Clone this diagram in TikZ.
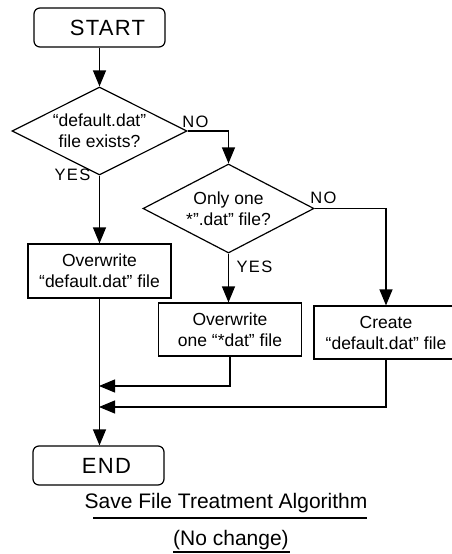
\documentclass[tikz,border=0pt]{standalone}
\usepackage{fontspec}
\setmainfont{Liberation Sans}
\usetikzlibrary{shapes.geometric,arrows.meta}

\begin{document}
\begin{tikzpicture}[x=1pt, y=-1pt, line width=1.2pt,
    term/.style={draw, rounded corners=6pt, minimum width=131pt, minimum height=39pt,
        inner sep=0pt, font=\fontsize{22}{26}\selectfont\addfontfeature{LetterSpace=6}},
    decision/.style={draw, diamond, aspect=2, inner sep=0pt, align=center,
        font=\fontsize{17.5}{21}\selectfont},
    process/.style={draw, minimum width=143pt, minimum height=54pt, inner sep=0pt,
        align=center, font=\fontsize{17.5}{21}\selectfont},
    lbl/.style={inner sep=0pt, font=\fontsize{16.5}{20}\selectfont\addfontfeature{LetterSpace=8}},
    arr/.style={-{Triangle[length=16pt,width=13pt]}}]

    \useasboundingbox (0,0) rectangle (452,554);

    % boxes
    \node[term] (start) at (99.5,27.5) {\hspace*{16pt}START};
    \node[decision, minimum width=175pt, minimum height=88pt] (q1) at (99.5,131)
        {``default.dat''\\file exists?};
    \node[decision, minimum width=171pt, minimum height=89pt] (q2) at (228.5,208.5)
        {Only one\\*''.dat'' file?};
    \node[process] (ow1) at (99.5,271) {Overwrite\\``default.dat'' file};
    \node[process, minimum height=53pt] (ow2) at (230,329.5) {Overwrite\\one ``*dat'' file};
    \node[process, minimum width=144pt, minimum height=53pt] (cr) at (386,332.5)
        {Create\\``default.dat'' file};
    \node[term] (end) at (98.5,465.5) {\hspace*{16pt}END};

    % labels
    \node[lbl] (no1) at (195.5,121.5) {NO};
    \node[lbl] (yes1) at (72.5,174.5) {YES};
    \node[lbl] (no2) at (323.5,198) {NO};
    \node[lbl] (yes2) at (254.5,267) {YES};

    \coordinate (m1) at (99,386);
    \coordinate (m2) at (99,407);

    % connectors
    \draw[arr] (start) -- (q1);
    \draw[arr] (q1.east) -| (q2.north);
    \draw[arr] (q1.south) -- (ow1.north);
    \draw[arr] (q2.south) -- (q2.south |- ow2.north);
    \draw[arr] (q2.east) -| (cr.north);
    \draw[arr] (ow1.south) -- (ow1.south |- end.north);
    \draw[arr] (ow2.south) |- (m1);
    \draw[arr] (cr.south) |- (m2);

    % caption
    \node[font=\fontsize{21}{25}\selectfont] (title) at (226,503.5) {Save File Treatment Algorithm};
    \draw[line width=2pt] (93,518) -- (367,518);
    \node[font=\fontsize{21}{25}\selectfont] (note) at (231,540) {(No change)};
    \draw[line width=2pt] (173,552) -- (290,552);

\end{tikzpicture}
\end{document}
